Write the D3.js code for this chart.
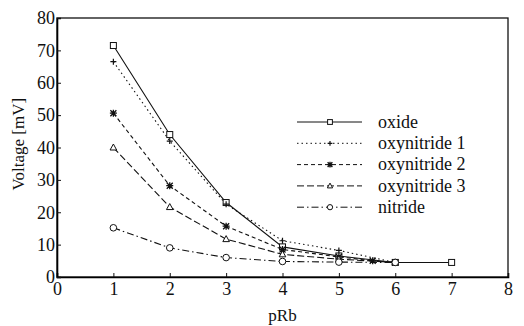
<!doctype html>
<html lang="en">
  <head>
    <meta charset="UTF-8" />
    <title>Voltage vs pRb</title>
    <script src="https://d3js.org/d3.v7.min.js"></script>
    <style>
      body {
        margin: 0;
        padding: 0;
        background: #fff;
      }
      svg,
      svg text {
        font-family: 'Liberation Serif', 'DejaVu Serif', serif !important;
        fill: #111;
      }
      .tick-label {
        font-size: 18px;
      }
      .axis-title {
        font-size: 17px;
      }
      .legend-item {
        font-size: 18px;
      }
    </style>
  </head>
  <body>
    <div id="chart"></div>

    <script>
      // Data
      const seriesNames = ['oxide', 'oxynitride 1', 'oxynitride 2', 'oxynitride 3', 'nitride']
      const xTicks = [0, 1, 2, 3, 4, 5, 6, 7, 8]
      const yTicks = [0, 10, 20, 30, 40, 50, 60, 70, 80]

      const oxideX = [1, 2, 3, 4, 5, 6, 7]
      const oxideY = [71.5, 44, 23, 9.3, 6.5, 4.5, 4.5]
      const oxy1X = [1, 2, 3, 4, 5, 6]
      const oxy1Y = [66.5, 42, 22.5, 11.2, 8.2, 4.5]
      const oxy2X = [1, 2, 3, 4, 5, 5.6, 6]
      const oxy2Y = [50.6, 28.2, 15.7, 8.5, 6.2, 5, 4.5]
      const oxy3X = [1, 2, 3, 4, 5, 6]
      const oxy3Y = [40, 21.6, 11.7, 7, 5.5, 4.5]
      const nitrideX = [1, 2, 3, 4, 5, 6]
      const nitrideY = [15.2, 9, 6, 4.8, 4.6, 4.5]

      const xs = [oxideX, oxy1X, oxy2X, oxy3X, nitrideX]
      const ys = [oxideY, oxy1Y, oxy2Y, oxy3Y, nitrideY]

      const dashes = ['none', '1.5,3', '4,3', '7,3', '7,3,1.5,3']
      const markers = ['square', 'plus', 'star', 'triangle', 'circle']

      const W = 524
      const H = 326
      const margin = { top: 18, right: 16, bottom: 49, left: 57 }
      const width = W - margin.left - margin.right
      const height = H - margin.top - margin.bottom

      const svg = d3
        .select('#chart')
        .append('svg')
        .attr('width', W)
        .attr('height', H)
        .attr('font-family', 'Liberation Serif, DejaVu Serif, serif')

      const g = svg.append('g').attr('transform', `translate(${margin.left},${margin.top})`)

      const x = d3.scaleLinear().domain([0, 8]).range([0, width])
      const y = d3.scaleLinear().domain([0, 80]).range([height, 0])

      // frame
      g.append('rect')
        .attr('width', width)
        .attr('height', height)
        .attr('fill', 'none')
        .attr('stroke', '#111')
        .attr('stroke-width', 1.3)

      // axes
      const xAxis = g
        .append('g')
        .attr('transform', `translate(0,${height})`)
        .call(d3.axisBottom(x).tickValues(xTicks).tickSize(-4).tickPadding(5).tickFormat(d3.format('d')))
      xAxis.attr('font-family', null).attr('font-size', null)
      xAxis.select('.domain').attr('stroke-width', 1.6)
      xAxis.selectAll('.tick line').attr('stroke', '#111')
      xAxis.selectAll('.tick text').attr('class', 'tick-label')

      const yAxis = g
        .append('g')
        .call(d3.axisLeft(y).tickValues(yTicks).tickSize(-4).tickPadding(2).tickFormat(d3.format('d')))
      yAxis.attr('font-family', null).attr('font-size', null)
      yAxis.select('.domain').attr('stroke-width', 1.6)
      yAxis.selectAll('.tick line').attr('stroke', '#111')
      yAxis.selectAll('.tick text').attr('class', 'tick-label')

      // axis titles
      g.append('text')
        .attr('class', 'axis-title')
        .attr('text-anchor', 'middle')
        .attr('x', x(4))
        .attr('y', height + 44)
        .text('pRb')

      g.append('text')
        .attr('class', 'axis-title')
        .attr('text-anchor', 'middle')
        .attr('transform', `translate(${-33},${y(41)}) rotate(-90)`)
        .text('Voltage [mV]')

      function drawMarker(sel, type, s) {
        s = s || 1
        if (type === 'square') {
          sel.append('rect').attr('x', -3 * s).attr('y', -3 * s).attr('width', 6 * s).attr('height', 6 * s)
            .attr('fill', '#fff').attr('stroke', '#111').attr('stroke-width', 1)
        } else if (type === 'plus') {
          sel.append('path').attr('d', `M${-3 * s},0H${3 * s}M0,${-3 * s}V${3 * s}`).attr('stroke', '#111').attr('stroke-width', 1.2)
        } else if (type === 'star') {
          sel.append('path').attr('d', `M${-3 * s},${-3 * s}L${3 * s},${3 * s}M${-3 * s},${3 * s}L${3 * s},${-3 * s}M${-3.5 * s},0H${3.5 * s}M0,${-3.5 * s}V${3.5 * s}`)
            .attr('stroke', '#111').attr('stroke-width', 1.3)
        } else if (type === 'triangle') {
          sel.append('path').attr('d', `M0,${-3.5 * s}L${3.3 * s},${2.5 * s}H${-3.3 * s}Z`)
            .attr('fill', '#fff').attr('stroke', '#111').attr('stroke-width', 1)
        } else {
          sel.append('circle').attr('r', 3.3 * s)
            .attr('fill', '#fff').attr('stroke', '#111').attr('stroke-width', 1)
        }
      }

      const line = d3.line().x((d) => x(d[0])).y((d) => y(d[1]))

      seriesNames.forEach((name, i) => {
        const pts = xs[i].map((v, j) => [v, ys[i][j]])
        g.append('path')
          .datum(pts)
          .attr('d', line)
          .attr('fill', 'none')
          .attr('stroke', '#111')
          .attr('stroke-width', 1.1)
          .attr('stroke-dasharray', dashes[i])
      })

      seriesNames.forEach((name, i) => {
        const pts = xs[i].map((v, j) => [v, ys[i][j]])
        pts.forEach((p) => {
          const m = g.append('g').attr('transform', `translate(${x(p[0])},${y(p[1])})`)
          drawMarker(m, markers[i])
        })
      })

      // legend
      const legend = svg.append('g').attr('transform', 'translate(297,122)')
      seriesNames.forEach((name, i) => {
        const row = legend.append('g').attr('transform', `translate(0,${i * 21.3})`)
        row.append('line')
          .attr('x1', 0).attr('x2', 65).attr('y1', 0).attr('y2', 0)
          .attr('stroke', '#111').attr('stroke-width', 1)
          .attr('stroke-dasharray', dashes[i])
        drawMarker(row.append('g').attr('transform', 'translate(33,0)'), markers[i], 0.8)
        row.append('text')
          .attr('class', 'legend-item')
          .attr('x', 81)
          .attr('y', 0)
          .attr('dy', '0.32em')
          .text(name)
      })
    </script>
  </body>
</html>
